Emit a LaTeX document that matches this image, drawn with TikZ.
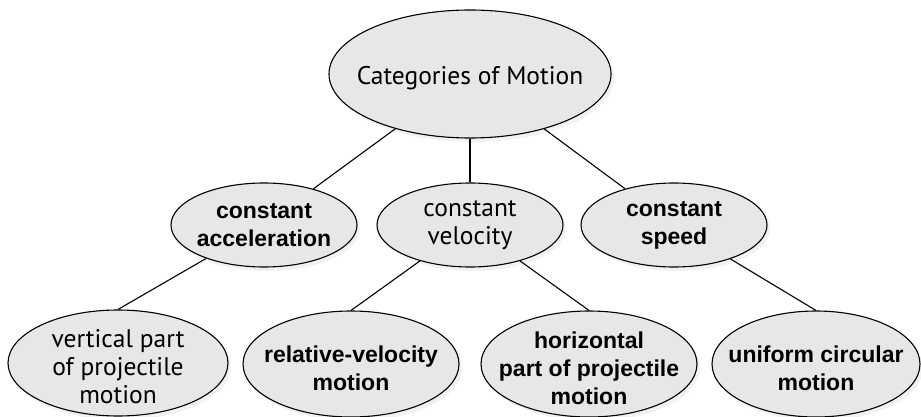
\documentclass[tikz,border=0pt]{standalone}
\usepackage{fontspec}
\setmainfont{PT Sans}
\newfontfamily\headfont{Liberation Sans}
\usetikzlibrary{shapes.geometric,shadows}
\definecolor{bubblegray}{RGB}{230,231,232}

\begin{document}
\begin{tikzpicture}[x=1pt,y=-1pt,
        bubble/.style={ellipse,draw=black,line width=1.1pt,fill=bubblegray,inner sep=0pt,
            drop shadow={opacity=0.10,shadow xshift=3pt,shadow yshift=-4pt}},
        plaintext/.style={align=center,font=\fontsize{25.5}{28}\selectfont},
        boldtext/.style={align=center,font=\headfont\bfseries\fontsize{23}{28}\selectfont},
        lower/.style={yshift=-4pt},
        link/.style={line width=1.1pt}]
    \useasboundingbox (0,0) rectangle (921,417);
    \node[bubble,minimum width=282,minimum height=128,label={[plaintext,lower]center:Categories of Motion}] (motion) at (470,74) {};
    \node[bubble,minimum width=186,minimum height=84,label={[boldtext]center:constant\\acceleration}] (accel) at (264,225) {};
    \node[bubble,minimum width=186,minimum height=84,label={[plaintext]center:constant\\velocity}] (velocity) at (470,225) {};
    \node[bubble,minimum width=186,minimum height=84,label={[boldtext]center:constant\\speed}] (speed) at (674,225) {};
    \node[bubble,minimum width=220,minimum height=106,label={[plaintext,lower]center:vertical part\\of projectile\\motion}] (vertical) at (118,363) {};
    \node[bubble,minimum width=216,minimum height=106,label={[boldtext,lower]center:relative-velocity\\motion}] (relative) at (351,364) {};
    \node[bubble,minimum width=216,minimum height=106,label={[boldtext,lower]center:horizontal\\part of projectile\\motion}] (horizontal) at (589,364) {};
    \node[bubble,minimum width=208,minimum height=106,label={[boldtext,lower]center:uniform circular\\motion}] (uniform) at (816,364) {};
    \draw[link] (motion) -- (accel);
    \draw[link] (motion) -- (velocity);
    \draw[link] (motion) -- (speed);
    \draw[link] (accel) -- (vertical.north);
    \draw[link] (velocity) -- (relative.north);
    \draw[link] (velocity) -- (horizontal.north);
    \draw[link] (speed) -- (uniform.north);
\end{tikzpicture}
\end{document}
